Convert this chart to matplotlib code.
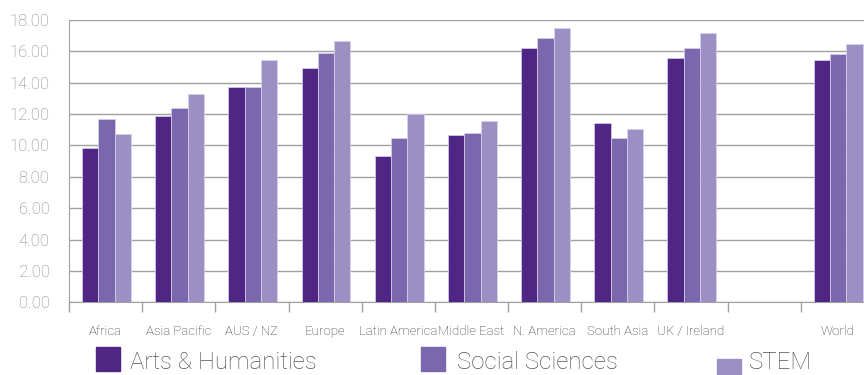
import matplotlib
matplotlib.use("Agg")
import matplotlib.pyplot as plt
from matplotlib.patches import Rectangle
import numpy as np

regions = ["Africa", "Asia Pacific", "AUS / NZ", "Europe", "Latin America",
           "Middle East", "N. America", "South Asia", "UK / Ireland", "", "World"]

arts = [9.81, 11.89, 13.74, 14.95, 9.34, 10.64, 16.23, 11.41, 15.59, np.nan, 15.42]
social = [11.68, 12.38, 13.74, 15.91, 10.47, 10.79, 16.86, 10.47, 16.23, np.nan, 15.82]
stem = [10.71, 13.26, 15.42, 16.63, 11.98, 11.57, 17.50, 11.03, 17.18, np.nan, 16.46]

series_names = ["Arts & Humanities", "Social Sciences", "STEM"]
colors = ["#4f2683", "#7a67ad", "#9c8fc4"]

plt.rcParams["font.family"] = ["Roboto", "DejaVu Sans"]

fig = plt.figure(figsize=(8.64, 3.75), dpi=100)
ax = fig.add_axes([69 / 864, 1 - 302.3 / 375, 805 / 864, 282.3 / 375])

x = np.arange(len(regions))
width = 0.223
for i, (vals, col) in enumerate(zip([arts, social, stem], colors)):
    ax.bar(x + (i - 1) * width + 0.012, vals, width, color=col,
           edgecolor="#d9d2ea", linewidth=0.5, zorder=3)

ax.set_xlim(-0.5, len(regions) - 0.5)
ax.set_ylim(0, 18)
ticks = np.arange(0, 18.1, 2)
ax.set_yticks(ticks)
ax.set_yticklabels([f"{v:.2f}" for v in ticks], fontsize=12,
                   color="#858585", fontweight="light")
ax.yaxis.grid(True, color="#a0a0a0", linewidth=1, zorder=0)
ax.tick_params(axis="y", length=0, pad=14)

ax.set_xticks(x)
ax.set_xticklabels(regions, fontsize=9.5, color="#333333", fontweight="light")
ax.set_xticks(np.arange(-0.5, len(regions), 1), minor=True)
ax.tick_params(axis="x", which="major", length=0, pad=16)
ax.tick_params(axis="x", which="minor", length=7, color="#a0a0a0", width=1)

for side in ["top", "right"]:
    ax.spines[side].set_visible(False)
ax.spines["left"].set_color("#a0a0a0")
ax.spines["bottom"].set_color("#a0a0a0")
ax.axhline(18, color="#dcdcdc", linewidth=1.2, zorder=1)

# legend drawn by hand to keep the original spacing
legend_pos = [(96, 347, 130), (421, 347, 457), (717, 359, 749)]
for name, col, (sx, sy, tx) in zip(series_names, colors, legend_pos):
    fig.patches.append(Rectangle((sx / 864, 1 - (sy + 24) / 375), 24 / 864, 24 / 375,
                                 transform=fig.transFigure, color=col))
    fig.text(tx / 864, 1 - 369 / 375, name, fontsize=17.3, color="#555555",
             va="baseline", ha="left", fontweight="light")

fig.savefig("out.png", dpi=100)
